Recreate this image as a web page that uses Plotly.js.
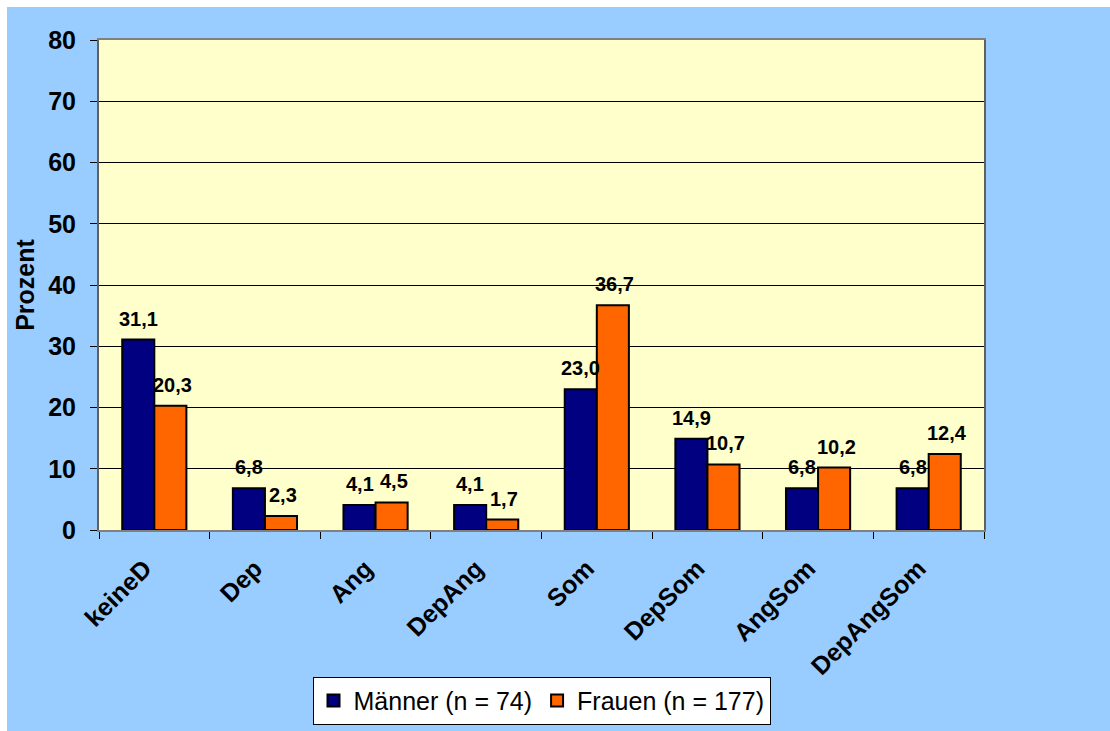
<!DOCTYPE html>
<html>
<head>
<meta charset="utf-8">
<script src="https://cdn.plot.ly/plotly-3.0.1.min.js"></script>
<style>
html,body{margin:0;padding:0;background:#ffffff;}
#chart{position:absolute;left:7px;top:7px;width:1103px;height:724px;}
</style>
</head>
<body>
<div id="chart"></div>
<script>
const categories = ["keineD", "Dep", "Ang", "DepAng", "Som", "DepSom", "AngSom", "DepAngSom"];
const maenner = [31.1, 6.8, 4.1, 4.1, 23.0, 14.9, 6.8, 6.8];
const frauen = [20.3, 2.3, 4.5, 1.7, 36.7, 10.7, 10.2, 12.4];
const seriesNames = ["Männer (n = 74)", "Frauen (n = 177)"];
const yTicks = [0, 10, 20, 30, 40, 50, 60, 70, 80];

const FONT = "Liberation Sans, Arial, sans-serif";
const fmt = v => v.toFixed(1).replace(".", ",");

const traces = [
  {type: "bar", name: seriesNames[0], x: categories, y: maenner,
   marker: {color: "#000080", line: {color: "#000000", width: 2}}, hoverinfo: "none"},
  {type: "bar", name: seriesNames[1], x: categories, y: frauen,
   marker: {color: "#FF6600", line: {color: "#000000", width: 2}}, hoverinfo: "none"}
];

const annotations = [];
categories.forEach((c, i) => {
  annotations.push({x: c, y: maenner[i], text: fmt(maenner[i]), xref: "x", yref: "y",
    showarrow: false, yanchor: "bottom", xshift: -16, yshift: 8,
    font: {family: FONT, size: 20, color: "#000000", weight: "bold"}});
  annotations.push({x: c, y: frauen[i], text: fmt(frauen[i]), xref: "x", yref: "y",
    showarrow: false, yanchor: "bottom", xshift: 18, yshift: 8,
    font: {family: FONT, size: 20, color: "#000000", weight: "bold"}});
});

const layout = {
  width: 1103, height: 724,
  margin: {l: 92, r: 126, t: 33, b: 201},
  paper_bgcolor: "#99CCFF",
  plot_bgcolor: "#FFFFCC",
  barmode: "group",
  bargap: 0.42,
  bargroupgap: 0,
  font: {family: FONT, color: "#000000"},
  xaxis: {
    type: "category",
    tickangle: -45,
    tickfont: {family: FONT, size: 25, weight: "bold", color: "#000000"},
    ticks: "outside", tickson: "boundaries", ticklen: 7, tickcolor: "#000000",
    ticklabelstandoff: 12, ticklabelshift: -10,
    showline: true, linecolor: "#808080", linewidth: 2, mirror: true,
    showgrid: false, fixedrange: true, automargin: false
  },
  yaxis: {
    range: [0, 80],
    tickvals: yTicks,
    tickfont: {family: FONT, size: 25, weight: "bold", color: "#000000"},
    ticks: "outside", ticklen: 7, tickcolor: "#000000",
    ticklabelstandoff: 9,
    showline: true, linecolor: "#606060", linewidth: 2, mirror: true,
    showgrid: true, gridcolor: "#000000", gridwidth: 1,
    zeroline: false,
    title: {text: "Prozent", font: {family: FONT, size: 25, weight: "bold", color: "#000000"}, standoff: 6},
    fixedrange: true, automargin: false
  },
  legend: {
    orientation: "h", x: 0.5, xanchor: "center", yref: "container", y: 0.075, yanchor: "top",
    bgcolor: "#FFFFFF", bordercolor: "#000000", borderwidth: 1,
    font: {family: FONT, size: 25, color: "#000000"},
    traceorder: "normal", itemclick: false
  },
  annotations: annotations,
  showlegend: true
};

Plotly.newPlot("chart", traces, layout, {displayModeBar: false, staticPlot: true});
</script>
</body>
</html>
